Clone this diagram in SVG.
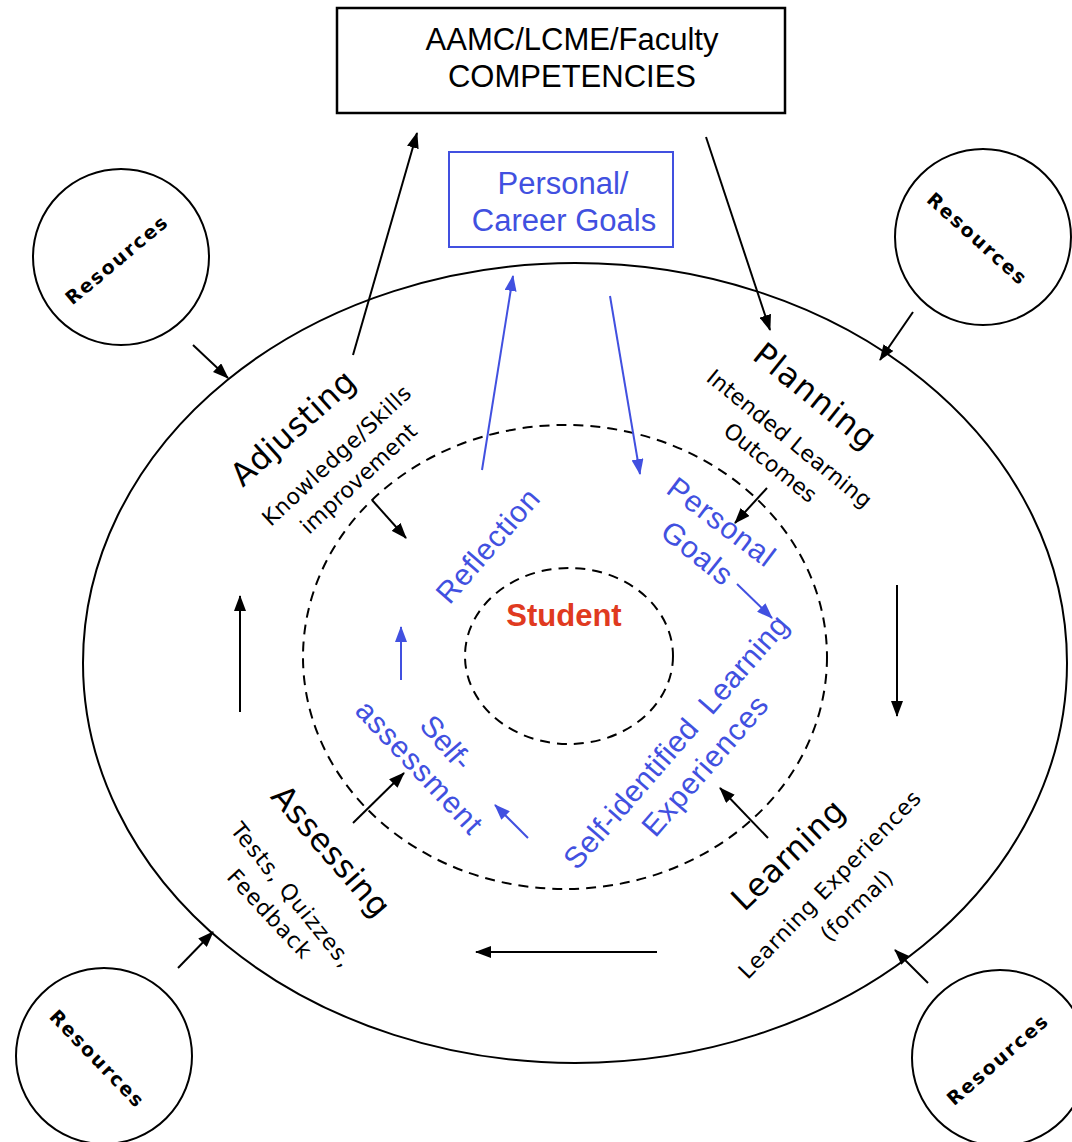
<svg xmlns="http://www.w3.org/2000/svg" width="1072" height="1142" viewBox="0 0 1072 1142">
<style>
.blk{font-family:"DejaVu Sans","Liberation Sans",sans-serif;fill:#000;text-anchor:middle}
.big{font-size:32px}
.sm{font-size:22px}
.res{font-family:"DejaVu Sans","Liberation Sans",sans-serif;font-size:19px;font-weight:bold;text-anchor:middle}
.blue{font-family:"Liberation Sans",Arial,sans-serif;fill:#4150e0;text-anchor:middle;font-size:30px}
.box{font-family:"Liberation Sans",Arial,sans-serif;text-anchor:middle;font-size:31px}
.ln{stroke:#000;stroke-width:2;fill:none}
.bl{stroke:#4150e0;stroke-width:2;fill:none}
.dash{stroke:#000;stroke-width:2;fill:none;stroke-dasharray:10 7}
</style>
<defs>
<marker id="ah" markerWidth="16" markerHeight="12" refX="15" refY="6" orient="auto" markerUnits="userSpaceOnUse"><path d="M0,0 L16,6 L0,12 z" fill="#000"/></marker>
<marker id="bh" markerWidth="16" markerHeight="12" refX="15" refY="6" orient="auto" markerUnits="userSpaceOnUse"><path d="M0,0 L16,6 L0,12 z" fill="#4150e0"/></marker>
</defs>
<rect width="1072" height="1142" fill="#fff"/>

<g id="cycle">
<ellipse cx="575" cy="663" rx="492" ry="400" class="ln"/>
</g>
<g id="selfdirected">
<ellipse cx="565" cy="657" rx="262" ry="232" class="dash"/>
</g>
<g id="student">
<ellipse cx="569" cy="656" rx="104" ry="88" class="dash"/>
<text x="564" y="626" font-family="Liberation Sans,Arial,sans-serif" font-weight="bold" font-size="31" fill="#e03a20" text-anchor="middle">Student</text>
</g>

<g id="competencies">
<rect x="337" y="8" width="448" height="105" fill="#fff" stroke="#000" stroke-width="2.5"/>
<text class="box" x="572" y="50">AAMC/LCME/Faculty</text>
<text class="box" x="572" y="87">COMPETENCIES</text>
</g>
<g id="career-goals">
<rect x="449" y="152" width="224" height="95" fill="#fff" stroke="#4150e0" stroke-width="2"/>
<text class="box" x="563" y="194" fill="#4150e0" font-size="29">Personal/</text>
<text class="box" x="564" y="231" fill="#4150e0" font-size="29">Career Goals</text>
</g>

<g id="resources-tl">
<circle cx="121" cy="257" r="88" class="ln"/>
<text class="res" transform="translate(116,260) rotate(-40)" y="7" textLength="126">Resources</text>
</g>
<g id="resources-tr">
<circle cx="983" cy="237" r="88" class="ln"/>
<text class="res" transform="translate(977,238) rotate(42)" y="7" textLength="126">Resources</text>
</g>
<g id="resources-bl">
<circle cx="104" cy="1056" r="88" class="ln"/>
<text class="res" transform="translate(97,1058) rotate(46)" y="7" textLength="126">Resources</text>
</g>
<g id="resources-br">
<circle cx="1000" cy="1058" r="88" class="ln"/>
<text class="res" transform="translate(997,1060) rotate(-41)" y="7" textLength="126">Resources</text>
</g>

<g id="adjusting">
<text class="blk big" transform="translate(293,428) rotate(-42)" y="11" textLength="155">Adjusting</text>
<text class="blk sm" transform="translate(337,456) rotate(-43)" y="7" textLength="194">Knowledge/Skills</text>
<text class="blk sm" transform="translate(359,479) rotate(-43)" y="7" textLength="150">improvement</text>
</g>
<g id="planning">
<text class="blk big" transform="translate(815,396) rotate(39)" y="11" textLength="147">Planning</text>
<text class="blk sm" transform="translate(789,439) rotate(39)" y="7" textLength="205">Intended Learning</text>
<text class="blk sm" transform="translate(770,463) rotate(39)" y="7" textLength="112">Outcomes</text>
</g>
<g id="learning">
<text class="blk big" transform="translate(788,855) rotate(-44)" y="11" textLength="143">Learning</text>
<text class="blk sm" transform="translate(830,885) rotate(-46)" y="7" textLength="251">Learning Experiences</text>
<text class="blk sm" transform="translate(857,906) rotate(-44)" y="7" textLength="91">(formal)</text>
</g>
<g id="assessing">
<text class="blk big" transform="translate(331,851) rotate(49)" y="11" textLength="162">Assessing</text>
<text class="blk sm" transform="translate(291,895) rotate(51)" y="7" textLength="178">Tests, Quizzes,</text>
<text class="blk sm" transform="translate(269,914) rotate(47)" y="7" textLength="112">Feedback</text>
</g>

<g id="reflection">
<text class="blue" transform="translate(488,546) rotate(-49)" y="10" textLength="140">Reflection</text>
</g>
<g id="personal-goals">
<text class="blue" transform="translate(721,522) rotate(37)" y="10" textLength="126">Personal</text>
<text class="blue" transform="translate(697,553) rotate(39)" y="10" textLength="82">Goals</text>
</g>
<g id="self-identified">
<text class="blue" transform="translate(676,742) rotate(-49)" y="10" textLength="325" xml:space="preserve">Self-identified  Learning</text>
<text class="blue" transform="translate(705,766) rotate(-49)" y="10" textLength="175">Experiences</text>
</g>
<g id="self-assessment">
<text class="blue" transform="translate(446,743) rotate(49)" y="10">Self-</text>
<text class="blue" transform="translate(419,767) rotate(47)" y="10" textLength="170">assessment</text>
</g>

<g id="connectors">
<line x1="353" y1="355" x2="417" y2="133" class="ln" marker-end="url(#ah)"/>
<line x1="706" y1="137" x2="770" y2="330" class="ln" marker-end="url(#ah)"/>
<line x1="897" y1="585" x2="897" y2="716" class="ln" marker-end="url(#ah)"/>
<line x1="657" y1="952" x2="476" y2="952" class="ln" marker-end="url(#ah)"/>
<line x1="240" y1="712" x2="240" y2="596" class="ln" marker-end="url(#ah)"/>
<line x1="372" y1="500" x2="406" y2="538" class="ln" marker-end="url(#ah)"/>
<line x1="767" y1="488" x2="735" y2="523" class="ln" marker-end="url(#ah)"/>
<line x1="768" y1="838" x2="720" y2="788" class="ln" marker-end="url(#ah)"/>
<line x1="353" y1="823" x2="404" y2="773" class="ln" marker-end="url(#ah)"/>
<line x1="193" y1="345" x2="228" y2="378" class="ln" marker-end="url(#ah)"/>
<line x1="913" y1="312" x2="880" y2="360" class="ln" marker-end="url(#ah)"/>
<line x1="178" y1="968" x2="213" y2="932" class="ln" marker-end="url(#ah)"/>
<line x1="928" y1="983" x2="895" y2="950" class="ln" marker-end="url(#ah)"/>
<line x1="482" y1="470" x2="513" y2="276" class="bl" marker-end="url(#bh)"/>
<line x1="610" y1="296" x2="640" y2="474" class="bl" marker-end="url(#bh)"/>
<line x1="737" y1="584" x2="772" y2="618" class="bl" marker-end="url(#bh)"/>
<line x1="528" y1="838" x2="495" y2="805" class="bl" marker-end="url(#bh)"/>
<line x1="401" y1="680" x2="401" y2="627" class="bl" marker-end="url(#bh)"/>
</g>
</svg>
